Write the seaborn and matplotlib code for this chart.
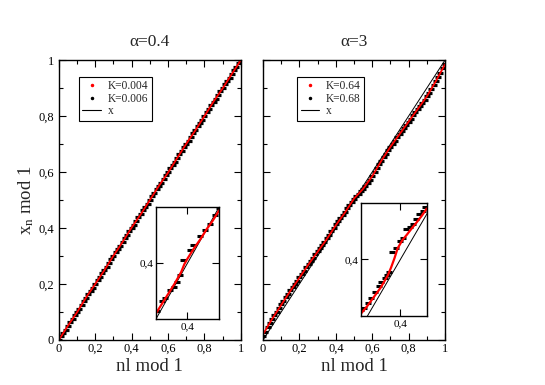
import numpy as np
import pandas as pd
import matplotlib
matplotlib.use("Agg")
import matplotlib.pyplot as plt
from matplotlib.lines import Line2D
from matplotlib.ticker import MultipleLocator
import seaborn as sns

# main curves (red line series)
nl_line = [0.00, 0.05, 0.10, 0.15, 0.20, 0.25, 0.30, 0.35, 0.40, 0.45, 0.50,
           0.55, 0.60, 0.65, 0.70, 0.75, 0.80, 0.85, 0.90, 0.95, 1.00]
red_a = [0.000, 0.051, 0.099, 0.152, 0.200, 0.249, 0.301, 0.350, 0.402, 0.449, 0.500,
         0.551, 0.598, 0.650, 0.701, 0.749, 0.800, 0.852, 0.899, 0.950, 1.000]
red_b = [0.020, 0.075, 0.125, 0.175, 0.222, 0.270, 0.315, 0.360, 0.410, 0.455, 0.505,
         0.540, 0.585, 0.640, 0.690, 0.735, 0.780, 0.825, 0.870, 0.925, 0.985]

# black dot series
nl_dots = [0.0, 0.0125, 0.025, 0.0375, 0.05, 0.0625, 0.075, 0.0875, 0.1, 0.1125,
           0.125, 0.1375, 0.15, 0.1625, 0.175, 0.1875, 0.2, 0.2125, 0.225, 0.2375,
           0.25, 0.2625, 0.275, 0.2875, 0.3, 0.3125, 0.325, 0.3375, 0.35, 0.3625,
           0.375, 0.3875, 0.4, 0.4125, 0.425, 0.4375, 0.45, 0.4625, 0.475, 0.4875,
           0.5, 0.5125, 0.525, 0.5375, 0.55, 0.5625, 0.575, 0.5875, 0.6, 0.6125,
           0.625, 0.6375, 0.65, 0.6625, 0.675, 0.6875, 0.7, 0.7125, 0.725, 0.7375,
           0.75, 0.7625, 0.775, 0.7875, 0.8, 0.8125, 0.825, 0.8375, 0.85, 0.8625,
           0.875, 0.8875, 0.9, 0.9125, 0.925, 0.9375, 0.95, 0.9625, 0.975, 0.9875, 1.0]
black_a = [0.001, 0.014, 0.026, 0.037, 0.051, 0.063, 0.074, 0.088, 0.101, 0.112,
           0.126, 0.138, 0.149, 0.163, 0.176, 0.187, 0.201, 0.213, 0.224, 0.238,
           0.251, 0.262, 0.276, 0.288, 0.299, 0.313, 0.326, 0.337, 0.351, 0.363,
           0.374, 0.388, 0.401, 0.412, 0.426, 0.438, 0.449, 0.463, 0.476, 0.487,
           0.501, 0.513, 0.524, 0.538, 0.551, 0.562, 0.576, 0.588, 0.599, 0.613,
           0.626, 0.637, 0.651, 0.663, 0.674, 0.688, 0.701, 0.712, 0.726, 0.738,
           0.749, 0.763, 0.776, 0.787, 0.801, 0.813, 0.824, 0.838, 0.851, 0.862,
           0.876, 0.888, 0.899, 0.913, 0.926, 0.937, 0.951, 0.963, 0.974, 0.988, 0.999]
black_b = [0.015, 0.030, 0.046, 0.061, 0.075, 0.088, 0.101, 0.114, 0.127, 0.139,
           0.152, 0.164, 0.177, 0.188, 0.200, 0.212, 0.224, 0.236, 0.248, 0.260,
           0.272, 0.283, 0.294, 0.306, 0.318, 0.329, 0.340, 0.351, 0.363, 0.376,
           0.388, 0.401, 0.413, 0.424, 0.435, 0.446, 0.458, 0.470, 0.481, 0.493,
           0.505, 0.513, 0.522, 0.531, 0.540, 0.551, 0.562, 0.573, 0.585, 0.600,
           0.615, 0.628, 0.640, 0.652, 0.665, 0.678, 0.690, 0.701, 0.712, 0.724,
           0.735, 0.746, 0.757, 0.769, 0.780, 0.791, 0.802, 0.814, 0.825, 0.836,
           0.847, 0.858, 0.870, 0.883, 0.897, 0.911, 0.925, 0.940, 0.955, 0.970, 0.985]

# inset data (zoom around 0.4)
nl_in_a = [0.350, 0.360, 0.370, 0.380, 0.390, 0.395, 0.400, 0.410, 0.420, 0.430, 0.440, 0.450]
red_in_a = [0.355, 0.364, 0.373, 0.382, 0.392, 0.399, 0.404, 0.413, 0.421, 0.430, 0.438, 0.447]
nl_in_a_dots = [0.352, 0.359, 0.364, 0.372, 0.378, 0.383, 0.388, 0.393, 0.404,
                0.409, 0.420, 0.428, 0.436, 0.444, 0.450]
black_in_a = [0.357, 0.366, 0.369, 0.376, 0.379, 0.383, 0.389, 0.403, 0.412,
              0.416, 0.424, 0.430, 0.435, 0.443, 0.449]

nl_in_b = [0.340, 0.350, 0.360, 0.370, 0.376, 0.381, 0.386, 0.391, 0.396,
           0.403, 0.410, 0.418, 0.425, 0.433, 0.440]
red_in_b = [0.352, 0.359, 0.367, 0.375, 0.381, 0.386, 0.393, 0.401, 0.410,
            0.417, 0.422, 0.428, 0.433, 0.439, 0.445]
nl_in_b_dots = [0.341, 0.345, 0.351, 0.356, 0.362, 0.367, 0.371, 0.376, 0.380, 0.383, 0.388,
                0.393, 0.399, 0.404, 0.409, 0.414, 0.419, 0.424, 0.429, 0.434, 0.438]
black_in_b = [0.355, 0.357, 0.362, 0.366, 0.371, 0.377, 0.380, 0.384, 0.386, 0.389, 0.407,
              0.410, 0.416, 0.419, 0.427, 0.429, 0.431, 0.436, 0.440, 0.443, 0.446]

diag = [0.0, 1.0]
tick_vals = [0.0, 0.2, 0.4, 0.6, 0.8, 1.0]
tick_labels = ["0", "0,2", "0,4", "0,6", "0,8", "1"]
titles = ["\u03b1=0.4", "\u03b1=3"]
legend_labels = [["K=0.004", "K=0.006", "x"], ["K=0.64", "K=0.68", "x"]]

sns.set_style("ticks")
plt.rcParams["font.family"] = ["Liberation Serif", "DejaVu Serif"]
plt.rcParams["mathtext.default"] = "regular"

fig = plt.figure(figsize=(5.45, 3.85), dpi=100)
ax1 = fig.add_axes([0.108, 0.117, 0.334, 0.727])
ax2 = fig.add_axes([0.4826, 0.117, 0.334, 0.727])
in1 = fig.add_axes([0.286, 0.171, 0.116, 0.291])
in2 = fig.add_axes([0.662, 0.179, 0.121, 0.294])


def style_axes(ax, fs):
    for sp in ax.spines.values():
        sp.set_linewidth(1.0)
        sp.set_color("black")
    ax.tick_params(which="both", direction="in", top=True, right=True,
                   colors="black", labelsize=fs, width=0.8)


def draw(ax, nl_l, red, nl_d, black, dot_size, lw, mlw):
    sns.lineplot(x=diag, y=diag, ax=ax, color="black", linewidth=0.7)
    sns.lineplot(x=nl_l, y=red, ax=ax, color="red", linewidth=lw, sort=False)
    sns.scatterplot(x=nl_d, y=black, ax=ax, color="black", marker="_",
                    s=dot_size, linewidth=mlw)


for i, (ax, red, black) in enumerate([(ax1, red_a, black_a), (ax2, red_b, black_b)]):
    draw(ax, nl_line, red, nl_dots, black, 18, 1.3, 2.3)
    ax.set_xlim(0, 1)
    ax.set_ylim(0, 1)
    ax.set_xticks(tick_vals)
    ax.set_xticklabels(tick_labels)
    ax.set_yticks(tick_vals)
    ax.xaxis.set_minor_locator(MultipleLocator(0.1))
    ax.yaxis.set_minor_locator(MultipleLocator(0.1))
    style_axes(ax, 9)
    ax.tick_params(which="major", length=5)
    ax.tick_params(which="minor", length=3)
    ax.tick_params(axis="x", pad=2)
    ax.set_xlabel("nl mod 1", fontsize=13.5, labelpad=2)
    ax.set_title(titles[i], fontsize=12.5, pad=10)
    handles = [
        Line2D([], [], color="red", marker=".", ls="none", ms=3),
        Line2D([], [], color="black", marker=".", ls="none", ms=3),
        Line2D([], [], color="black", lw=0.8),
    ]
    leg = ax.legend(handles, legend_labels[i], loc="upper left",
                    bbox_to_anchor=(0.11 if i == 0 else 0.187, 0.94),
                    fontsize=8.3, frameon=True, fancybox=False, framealpha=1,
                    edgecolor="black", borderpad=0.3, labelspacing=0.05,
                    handlelength=1.6, handletextpad=0.6, borderaxespad=0)
    leg.get_frame().set_linewidth(0.8)

ax1.set_yticklabels(tick_labels)
ax1.set_ylabel("$x_n$ mod 1", fontsize=13.5, labelpad=2)
ax2.set_yticklabels([])
ax2.set_ylabel("")

for ax, nl_l, red, nl_d, black, lims in [
    (in1, nl_in_a, red_in_a, nl_in_a_dots, black_in_a, ((0.35, 0.45), (0.35, 0.45))),
    (in2, nl_in_b, red_in_b, nl_in_b_dots, black_in_b, ((0.34, 0.44), (0.35, 0.45))),
]:
    draw(ax, nl_l, red, nl_d, black, 25, 1.6, 2.2)
    ax.set_xlim(*lims[0])
    ax.set_ylim(*lims[1])
    ax.set_xticks([0.4])
    ax.set_xticklabels(["0,4"])
    ax.set_yticks([0.4])
    ax.set_yticklabels(["0,4"])
    style_axes(ax, 8)
    ax.tick_params(which="major", length=5, pad=2)
    ax.set_xlabel("")
    ax.set_ylabel("")

fig.savefig("out.png", dpi=100)
